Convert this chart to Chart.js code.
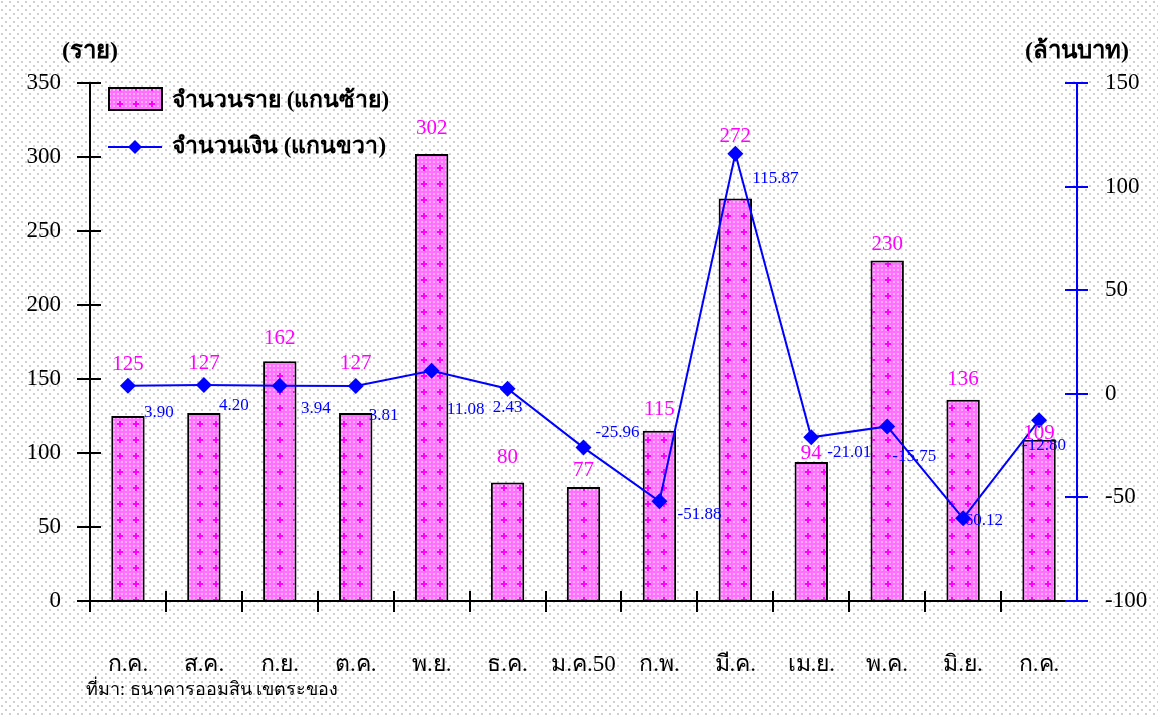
<!DOCTYPE html>
<html>
<head>
<meta charset="utf-8">
<script src="https://cdn.jsdelivr.net/npm/chart.js@4/dist/chart.umd.min.js"></script>
<style>
    html, body { margin: 0; padding: 0; background: #fff; }
    #wrap { width: 1158px; height: 715px; position: relative; }
</style>
</head>
<body>
<div id="wrap"><canvas id="chart" width="1158" height="715"></canvas></div>
<script>
// Months (Jul 2006 - Jul 2007)
const months = ['ก.ค.', 'ส.ค.', 'ก.ย.', 'ต.ค.', 'พ.ย.', 'ธ.ค.', 'ม.ค.50', 'ก.พ.', 'มี.ค.', 'เม.ย.', 'พ.ค.', 'มิ.ย.', 'ก.ค.'];
// number of cases (left axis)
const caseCounts = [125, 127, 162, 127, 302, 80, 77, 115, 272, 94, 230, 136, 109];
// amount, million baht (right axis)
const amounts = [3.90, 4.20, 3.94, 3.81, 11.08, 2.43, -25.96, -51.88, 115.87, -21.01, -15.75, -60.12, -12.80];
const leftTicks = [0, 50, 100, 150, 200, 250, 300, 350];
const rightTicks = [-100, -50, 0, 50, 100, 150];

// label nudges (px) - the original had hand placed labels
const barLabelLift = [52, 50, 23, 50, 26, 25, 17, 21, 62, 8, 16, 20, 6];
const lineLabelShift = [
    [31, 27], [30, 20], [36, 23], [28, 30], [34, 39], [0, 19], [34, -15], [40, 13],
    [40, 25], [38, 15], [27, 30], [18, 2], [5, 25]
];

const serif = "'Liberation Serif', 'DejaVu Serif', serif";

// dotted gray background like the original
function makeBgPattern(ctx) {
    const c = document.createElement('canvas');
    c.width = 8; c.height = 8;
    const g = c.getContext('2d');
    g.fillStyle = '#ffffff';
    g.fillRect(0, 0, 8, 8);
    g.fillStyle = '#d0d0d0';
    g.fillRect(1, 1, 2, 2);
    g.fillRect(5, 5, 2, 2);
    return ctx.createPattern(c, 'repeat');
}

// pink fill with plus signs
function makeBarPattern(ctx) {
    const c = document.createElement('canvas');
    c.width = 16; c.height = 16;
    const g = c.getContext('2d');
    g.fillStyle = '#ff70ff';
    g.fillRect(0, 0, 16, 16);
    g.fillStyle = '#ffb0ff';
    for (let x = 1; x < 16; x += 4) {
        for (let y = 1; y < 16; y += 4) {
            g.fillRect(x, y, 2, 2);
        }
    }
    g.fillStyle = '#ff00ff';
    g.fillRect(7, 5, 2, 6);
    g.fillRect(5, 7, 6, 2);
    return ctx.createPattern(c, 'repeat');
}

const canvas = document.getElementById('chart');
const ctx = canvas.getContext('2d');
const bgPattern = makeBgPattern(ctx);
const barPattern = makeBarPattern(ctx);

// background, axes with crossing ticks, labels, legend, titles
const decorations = {
    id: 'decorations',
    beforeDraw(chart) {
        const c = chart.ctx;
        c.save();
        c.fillStyle = bgPattern;
        c.fillRect(0, 0, chart.width, chart.height);
        c.restore();
    },
    afterDatasetsDraw(chart) {
        const c = chart.ctx;
        const area = chart.chartArea;
        const xs = chart.scales.x;
        const yl = chart.scales.y;
        const yr = chart.scales.y1;
        c.save();

        // x axis + ticks at category borders
        c.strokeStyle = '#000';
        c.lineWidth = 2;
        c.beginPath();
        c.moveTo(area.left, area.bottom);
        c.lineTo(area.right, area.bottom);
        const half = (xs.getPixelForValue(1) - xs.getPixelForValue(0)) / 2;
        for (let i = 0; i < months.length; i++) {
            const x = Math.round(xs.getPixelForValue(i) - half);
            c.moveTo(x, area.bottom - 10);
            c.lineTo(x, area.bottom + 11);
        }
        // left axis
        c.moveTo(area.left, area.top);
        c.lineTo(area.left, area.bottom);
        leftTicks.forEach(v => {
            const y = Math.round(yl.getPixelForValue(v));
            c.moveTo(area.left - 13, y);
            c.lineTo(area.left + 11, y);
        });
        c.stroke();

        // right axis in blue
        c.strokeStyle = '#0000ff';
        c.beginPath();
        c.moveTo(area.right, area.top);
        c.lineTo(area.right, area.bottom);
        rightTicks.forEach(v => {
            const y = Math.round(yr.getPixelForValue(v));
            c.moveTo(area.right - 12, y);
            c.lineTo(area.right + 11, y);
        });
        c.stroke();

        // bar value labels
        const barMeta = chart.getDatasetMeta(0);
        c.font = '21px ' + serif;
        c.fillStyle = '#ff00ff';
        c.textAlign = 'center';
        c.textBaseline = 'middle';
        barMeta.data.forEach((bar, i) => {
            c.fillText(String(caseCounts[i]), bar.x, bar.y - barLabelLift[i]);
        });

        // line value labels
        const lineMeta = chart.getDatasetMeta(1);
        c.font = '17px ' + serif;
        c.fillStyle = '#0000ff';
        lineMeta.data.forEach((pt, i) => {
            const s = lineLabelShift[i];
            c.fillText(amounts[i].toFixed(2), pt.x + s[0], pt.y + s[1]);
        });

        // axis titles
        c.fillStyle = '#000';
        c.font = 'bold 24px ' + serif;
        c.fillText('(ราย)', area.left, 52);
        c.fillText('(ล้านบาท)', area.right, 52);

        // legend
        const ds = chart.data.datasets;
        c.fillStyle = barPattern;
        c.fillRect(109, 88, 53, 22);
        c.lineWidth = 2;
        c.strokeStyle = '#000';
        c.strokeRect(109, 88, 53, 22);
        c.strokeStyle = '#0000ff';
        c.beginPath();
        c.moveTo(108, 147);
        c.lineTo(162, 147);
        c.stroke();
        c.fillStyle = '#0000ff';
        c.beginPath();
        c.moveTo(135, 140); c.lineTo(142, 147); c.lineTo(135, 154); c.lineTo(128, 147);
        c.closePath();
        c.fill();
        c.fillStyle = '#000';
        c.textAlign = 'left';
        c.font = 'bold 23px ' + serif;
        c.fillText(ds[0].label, 172, 101);
        c.fillText(ds[1].label, 172, 147);

        // source note
        c.font = '18px ' + serif;
        c.fillText('ที่มา: ธนาคารออมสิน เขตระของ', 86, 690);
        c.restore();
    }
};

new Chart(ctx, {
    type: 'bar',
    data: {
        labels: months,
        datasets: [{
            label: 'จำนวนราย (แกนซ้าย)',
            data: caseCounts,
            yAxisID: 'y',
            backgroundColor: barPattern,
            borderColor: '#000',
            borderWidth: 2,
            borderSkipped: 'bottom',
            barPercentage: 0.44,
            categoryPercentage: 1,
            order: 2
        }, {
            type: 'line',
            label: 'จำนวนเงิน (แกนขวา)',
            data: amounts,
            yAxisID: 'y1',
            borderColor: '#0000ff',
            backgroundColor: '#0000ff',
            borderWidth: 2,
            pointStyle: 'rectRot',
            pointRadius: 8,
            pointBorderWidth: 0,
            tension: 0,
            order: 1
        }]
    },
    options: {
        responsive: false,
        animation: false,
        layout: { padding: { top: 83, left: 0, right: 0, bottom: 0 } },
        plugins: {
            legend: { display: false },
            tooltip: { enabled: false }
        },
        scales: {
            x: {
                offset: true,
                grid: { display: false },
                border: { display: false },
                ticks: {
                    color: '#000',
                    font: { size: 23, family: serif },
                    padding: 42,
                    maxRotation: 0,
                    autoSkip: false
                },
                afterFit(scale) { scale.height = 114; }
            },
            y: {
                position: 'left',
                min: 0,
                max: 350,
                grid: { display: false },
                border: { display: false },
                ticks: {
                    stepSize: 50,
                    color: '#000',
                    font: { size: 23, family: serif },
                    padding: 21
                },
                afterFit(scale) { scale.width = 90; }
            },
            y1: {
                position: 'right',
                min: -100,
                max: 150,
                grid: { display: false },
                border: { display: false },
                ticks: {
                    stepSize: 50,
                    color: '#000',
                    font: { size: 23, family: serif },
                    padding: 20
                },
                afterFit(scale) { scale.width = 81; }
            }
        }
    },
    plugins: [decorations]
});
</script>
</body>
</html>
